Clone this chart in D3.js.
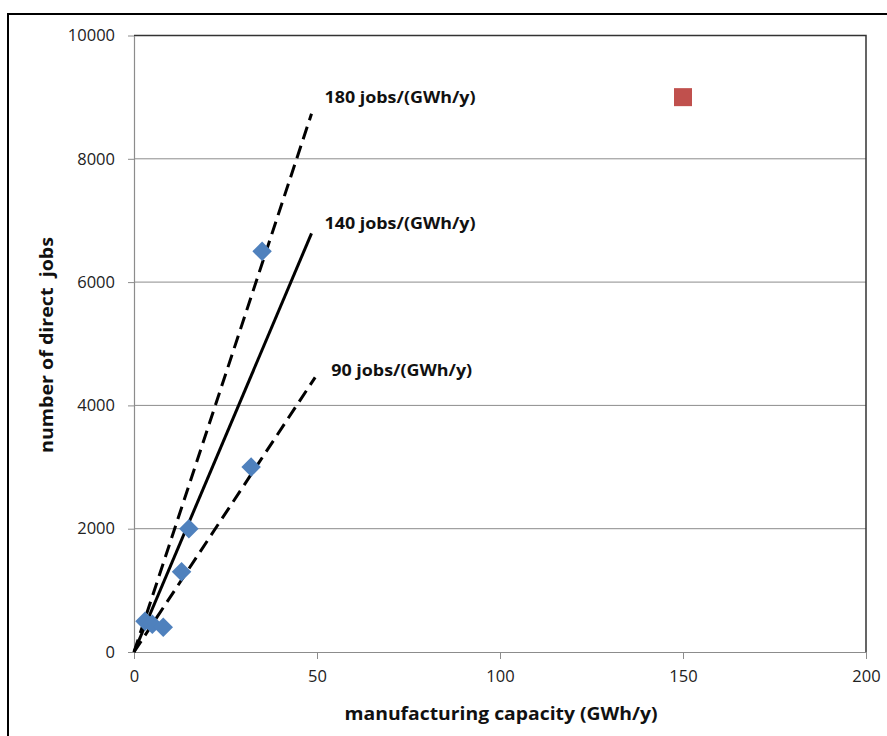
<!DOCTYPE html>
<html>
<head>
<meta charset="utf-8">
<script src="https://cdnjs.cloudflare.com/ajax/libs/d3/7.8.5/d3.min.js"></script>
<style>
  body { margin: 0; background: #fff; }
  svg { display: block; font-family: "Open Sans", sans-serif; }
</style>
</head>
<body>
<div id="chart"></div>
<script>
// observed plants: capacity (GWh/y) vs direct jobs
var plantCapacity = [3, 5, 8, 13, 15, 32, 35];
var plantJobs = [500, 450, 400, 1300, 2000, 3000, 6500];

// the single red outlier
var outlierCapacity = [150];
var outlierJobs = [9000];

// reference lines, jobs per GWh/y
var rates = [180, 140, 90];
var rateEnd = [48.5, 48.5, 49.5];
var rateLabels = ["180 jobs/(GWh/y)", "140 jobs/(GWh/y)", "90 jobs/(GWh/y)"];

var xTicks = [0, 50, 100, 150, 200];
var yTicks = [0, 2000, 4000, 6000, 8000, 10000];

var width = 887, height = 736;
var margin = {left: 134, top: 35.5, right: 21, bottom: 84};

var svg = d3.select("#chart").append("svg")
    .attr("width", width)
    .attr("height", height);

// outer frame, only top and left edges show
svg.append("path")
    .attr("d", "M8,736 L8,14 L887,14")
    .attr("fill", "none")
    .attr("stroke", "#000")
    .attr("stroke-width", 2);

var x = d3.scaleLinear().domain([0, 200]).range([margin.left, width - margin.right]);
var y = d3.scaleLinear().domain([0, 10000]).range([height - margin.bottom, margin.top]);

// gridlines
svg.append("g")
    .selectAll("line")
    .data(yTicks.slice(1, -1))
    .enter().append("line")
    .attr("x1", x(0)).attr("x2", x(200))
    .attr("y1", function(d) { return y(d); })
    .attr("y2", function(d) { return y(d); })
    .attr("stroke", "#8c8c8c")
    .attr("stroke-width", 1);

// plot area border top/right
svg.append("path")
    .attr("d", "M" + x(0) + "," + y(10000) + " L" + x(200) + "," + y(10000) + " L" + x(200) + "," + y(0))
    .attr("fill", "none")
    .attr("stroke", "#333")
    .attr("stroke-width", 1.5);

// axes
var xAxis = svg.append("g")
    .attr("transform", "translate(0," + y(0) + ")")
    .call(d3.axisBottom(x).tickValues(xTicks).tickFormat(d3.format("d"))
        .tickSize(7).tickPadding(11).tickSizeOuter(0));
var yAxis = svg.append("g")
    .attr("transform", "translate(" + x(0) + ",0)")
    .call(d3.axisLeft(y).tickValues(yTicks).tickFormat(d3.format("d"))
        .tickSize(6).tickPadding(13).tickSizeOuter(0));

[xAxis, yAxis].forEach(function(a) {
    a.select(".domain").attr("stroke", "#8c8c8c").attr("stroke-width", 1.2);
    a.selectAll(".tick line").attr("stroke", "#8c8c8c");
    a.selectAll(".tick text")
        .attr("fill", "#222")
        .style("font-family", "'Open Sans', sans-serif")
        .style("font-size", "16.5px");
});

// reference lines
var dashes = ["13,7", null, "13,7"];
var lineGen = d3.line().x(function(d) { return x(d[0]); }).y(function(d) { return y(d[1]); });
svg.append("g")
    .selectAll("path")
    .data(rates)
    .enter().append("path")
    .attr("d", function(r, i) { return lineGen([[0, 0], [rateEnd[i], r * rateEnd[i]]]); })
    .attr("fill", "none")
    .attr("stroke", "#000")
    .attr("stroke-width", 3)
    .attr("stroke-dasharray", function(r, i) { return dashes[i]; });

// line labels (offsets from each line's end point)
var labelDx = [13, 13, 16];
var labelDy = [-11, -4, -1];
var labelLen = [151, 151, 141];
svg.append("g")
    .selectAll("text")
    .data(rateLabels)
    .enter().append("text")
    .attr("x", function(d, i) { return x(rateEnd[i]) + labelDx[i]; })
    .attr("y", function(d, i) { return y(rates[i] * rateEnd[i]) + labelDy[i]; })
    .attr("font-weight", "bold")
    .attr("font-size", "16px")
    .attr("textLength", function(d, i) { return labelLen[i]; })
    .attr("lengthAdjust", "spacingAndGlyphs")
    .attr("fill", "#111")
    .text(function(d) { return d; });

// plant diamonds
svg.append("g")
    .selectAll("path")
    .data(plantCapacity)
    .enter().append("path")
    .attr("d", d3.symbol().type(d3.symbolDiamond2).size(242))
    .attr("transform", function(d, i) { return "translate(" + x(d) + "," + y(plantJobs[i]) + ")"; })
    .attr("fill", "#4f81bd");

// outlier square
svg.append("g")
    .selectAll("rect")
    .data(outlierCapacity)
    .enter().append("rect")
    .attr("x", function(d) { return x(d) - 9; })
    .attr("y", function(d, i) { return y(outlierJobs[i]) - 9; })
    .attr("width", 18).attr("height", 18)
    .attr("fill", "#c0504d");

// axis titles
svg.append("text")
    .attr("x", 501)
    .attr("y", 720)
    .attr("text-anchor", "middle")
    .attr("font-weight", "bold")
    .attr("font-size", "18px")
    .attr("textLength", 313)
    .attr("lengthAdjust", "spacingAndGlyphs")
    .attr("fill", "#111")
    .text("manufacturing capacity (GWh/y)");

svg.append("text")
    .attr("transform", "translate(53,345) rotate(-90)")
    .attr("text-anchor", "middle")
    .attr("font-weight", "bold")
    .attr("font-size", "18px")
    .attr("textLength", 216)
    .attr("lengthAdjust", "spacingAndGlyphs")
    .attr("fill", "#111")
    .style("white-space", "pre")
    .text("number of direct  jobs");
</script>
</body>
</html>
